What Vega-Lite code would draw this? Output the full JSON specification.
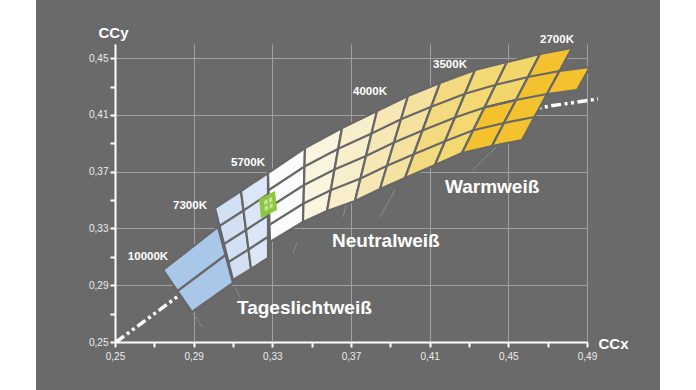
{
  "$schema": "https://vega.github.io/schema/vega-lite/v6.json",
  "width": 472,
  "height": 298,
  "autosize": {"type": "none"},
  "padding": {"left": 115, "top": 44, "right": 109, "bottom": 48},
  "background": "#6a6a6a",
  "config": {"view": {"stroke": null}, "font": "Liberation Sans"},
  "datasets": {
    "pad": [
      {"x": 0.18898, "x2": 0.20983, "y": 0.49453, "y2": 0.21265},
      {"x": 0.52712, "x2": 0.54746, "y": 0.49453, "y2": 0.21265}
    ],
    "leaders": [
      {"x": 0.28966, "y": 0.27044, "x2": 0.29424, "y2": 0.26057},
      {"x": 0.31102, "y": 0.28876, "x2": 0.31356, "y2": 0.28171},
      {"x": 0.34254, "y": 0.31976, "x2": 0.34051, "y2": 0.31272},
      {"x": 0.36593, "y": 0.33809, "x2": 0.36949, "y2": 0.35570},
      {"x": 0.38475, "y": 0.33809, "x2": 0.39237, "y2": 0.35711},
      {"x": 0.43203, "y": 0.37121, "x2": 0.44576, "y2": 0.39023}
    ],
    "locus": [
      {"k": 0, "x": 0.2505, "y": 0.2500},
      {"k": 1, "x": 0.26780, "y": 0.26762},
      {"k": 2, "x": 0.28559, "y": 0.28594},
      {"k": 3, "x": 0.30593, "y": 0.30919},
      {"k": 4, "x": 0.32780, "y": 0.33597},
      {"k": 5, "x": 0.34661, "y": 0.35359},
      {"k": 6, "x": 0.36949, "y": 0.36980},
      {"k": 7, "x": 0.39492, "y": 0.38530},
      {"k": 8, "x": 0.41780, "y": 0.40081},
      {"k": 9, "x": 0.44576, "y": 0.40997},
      {"k": 10, "x": 0.47119, "y": 0.41631},
      {"k": 11, "x": 0.49559, "y": 0.42124}
    ],
    "cells": [
      {"id": "p1", "g": "b10000", "k": 0, "x": 0.27441, "y": 0.30074},
      {"id": "p1", "g": "b10000", "k": 1, "x": 0.30237, "y": 0.33104},
      {"id": "p1", "g": "b10000", "k": 2, "x": 0.31000, "y": 0.29158},
      {"id": "p1", "g": "b10000", "k": 3, "x": 0.28915, "y": 0.27114},
      {"id": "p1", "g": "b10000", "k": 4, "x": 0.27441, "y": 0.30074},

      {"id": "p2", "g": "b7300a", "k": 0, "x": 0.30085, "y": 0.34443},
      {"id": "p2", "g": "b7300a", "k": 1, "x": 0.31407, "y": 0.35641},
      {"id": "p2", "g": "b7300a", "k": 2, "x": 0.31915, "y": 0.30144},
      {"id": "p2", "g": "b7300a", "k": 3, "x": 0.31000, "y": 0.29369},
      {"id": "p2", "g": "b7300a", "k": 4, "x": 0.30085, "y": 0.34443},

      {"id": "p3", "g": "b7300b", "k": 0, "x": 0.31407, "y": 0.35641},
      {"id": "p3", "g": "b7300b", "k": 1, "x": 0.32780, "y": 0.36909},
      {"id": "p3", "g": "b7300b", "k": 2, "x": 0.32780, "y": 0.30919},
      {"id": "p3", "g": "b7300b", "k": 3, "x": 0.31915, "y": 0.30144},
      {"id": "p3", "g": "b7300b", "k": 4, "x": 0.31407, "y": 0.35641},

      {"id": "p4", "g": "w5700", "k": 0, "x": 0.32780, "y": 0.36909},
      {"id": "p4", "g": "w5700", "k": 1, "x": 0.34661, "y": 0.38671},
      {"id": "p4", "g": "w5700", "k": 2, "x": 0.34559, "y": 0.33456},
      {"id": "p4", "g": "w5700", "k": 3, "x": 0.32881, "y": 0.32047},
      {"id": "p4", "g": "w5700", "k": 4, "x": 0.32780, "y": 0.36909},

      {"id": "p5", "g": "c1", "k": 0, "x": 0.34661, "y": 0.38671},
      {"id": "p5", "g": "c1", "k": 1, "x": 0.36542, "y": 0.40081},
      {"id": "p5", "g": "c1", "k": 2, "x": 0.35780, "y": 0.34232},
      {"id": "p5", "g": "c1", "k": 3, "x": 0.34559, "y": 0.33456},
      {"id": "p5", "g": "c1", "k": 4, "x": 0.34661, "y": 0.38671},

      {"id": "p6", "g": "c2", "k": 0, "x": 0.36542, "y": 0.40081},
      {"id": "p6", "g": "c2", "k": 1, "x": 0.38322, "y": 0.41279},
      {"id": "p6", "g": "c2", "k": 2, "x": 0.37203, "y": 0.34936},
      {"id": "p6", "g": "c2", "k": 3, "x": 0.35780, "y": 0.34232},
      {"id": "p6", "g": "c2", "k": 4, "x": 0.36542, "y": 0.40081},

      {"id": "p7", "g": "c3", "k": 0, "x": 0.38322, "y": 0.41279},
      {"id": "p7", "g": "c3", "k": 1, "x": 0.39898, "y": 0.42336},
      {"id": "p7", "g": "c3", "k": 2, "x": 0.38475, "y": 0.35782},
      {"id": "p7", "g": "c3", "k": 3, "x": 0.37203, "y": 0.34936},
      {"id": "p7", "g": "c3", "k": 4, "x": 0.38322, "y": 0.41279},

      {"id": "p8", "g": "c4", "k": 0, "x": 0.39898, "y": 0.42336},
      {"id": "p8", "g": "c4", "k": 1, "x": 0.41525, "y": 0.43252},
      {"id": "p8", "g": "c4", "k": 2, "x": 0.39746, "y": 0.36557},
      {"id": "p8", "g": "c4", "k": 3, "x": 0.38475, "y": 0.35782},
      {"id": "p8", "g": "c4", "k": 4, "x": 0.39898, "y": 0.42336},

      {"id": "p9", "g": "c5", "k": 0, "x": 0.41525, "y": 0.43252},
      {"id": "p9", "g": "c5", "k": 1, "x": 0.43305, "y": 0.44168},
      {"id": "p9", "g": "c5", "k": 2, "x": 0.41271, "y": 0.37473},
      {"id": "p9", "g": "c5", "k": 3, "x": 0.39746, "y": 0.36557},
      {"id": "p9", "g": "c5", "k": 4, "x": 0.41525, "y": 0.43252},

      {"id": "p10", "g": "c6", "k": 0, "x": 0.43305, "y": 0.44168},
      {"id": "p10", "g": "c6", "k": 1, "x": 0.44932, "y": 0.44732},
      {"id": "p10", "g": "c6", "k": 2, "x": 0.42644, "y": 0.38319},
      {"id": "p10", "g": "c6", "k": 3, "x": 0.41271, "y": 0.37473},
      {"id": "p10", "g": "c6", "k": 4, "x": 0.43305, "y": 0.44168},

      {"id": "p11", "g": "c7", "k": 0, "x": 0.44932, "y": 0.44732},
      {"id": "p11", "g": "c7", "k": 1, "x": 0.46610, "y": 0.45295},
      {"id": "p11", "g": "c7", "k": 2, "x": 0.45390, "y": 0.42054},
      {"id": "p11", "g": "c7", "k": 3, "x": 0.43788, "y": 0.41525},
      {"id": "p11", "g": "c7", "k": 4, "x": 0.44932, "y": 0.44732},

      {"id": "p12", "g": "gold", "k": 0, "x": 0.43788, "y": 0.41525},
      {"id": "p12", "g": "gold", "k": 1, "x": 0.45390, "y": 0.42054},
      {"id": "p12", "g": "gold", "k": 2, "x": 0.44169, "y": 0.38812},
      {"id": "p12", "g": "gold", "k": 3, "x": 0.42644, "y": 0.38319},
      {"id": "p12", "g": "gold", "k": 4, "x": 0.43788, "y": 0.41525},

      {"id": "p13", "g": "gold", "k": 0, "x": 0.46610, "y": 0.45295},
      {"id": "p13", "g": "gold", "k": 1, "x": 0.48237, "y": 0.45718},
      {"id": "p13", "g": "gold", "k": 2, "x": 0.45695, "y": 0.39235},
      {"id": "p13", "g": "gold", "k": 3, "x": 0.44169, "y": 0.38812},
      {"id": "p13", "g": "gold", "k": 4, "x": 0.46610, "y": 0.45295},

      {"id": "p14", "g": "gold", "k": 0, "x": 0.47602, "y": 0.44097},
      {"id": "p14", "g": "gold", "k": 1, "x": 0.49153, "y": 0.44379},
      {"id": "p14", "g": "gold", "k": 2, "x": 0.48492, "y": 0.42758},
      {"id": "p14", "g": "gold", "k": 3, "x": 0.46966, "y": 0.42477},
      {"id": "p14", "g": "gold", "k": 4, "x": 0.47602, "y": 0.44097}
    ],
    "rlines": [
      {"id": "r10000", "k": 0, "x": 0.28178, "y": 0.28594},
      {"id": "r10000", "k": 1, "x": 0.30619, "y": 0.31131},

      {"id": "r73a", "k": 0, "x": 0.30314, "y": 0.33175},
      {"id": "r73a", "k": 1, "x": 0.31534, "y": 0.34267},
      {"id": "r73a", "k": 2, "x": 0.32780, "y": 0.35412},
      {"id": "r73b", "k": 0, "x": 0.30542, "y": 0.31906},
      {"id": "r73b", "k": 1, "x": 0.31661, "y": 0.32893},
      {"id": "r73b", "k": 2, "x": 0.32780, "y": 0.33914},
      {"id": "r73c", "k": 0, "x": 0.30771, "y": 0.30638},
      {"id": "r73c", "k": 1, "x": 0.31788, "y": 0.31518},
      {"id": "r73c", "k": 2, "x": 0.32780, "y": 0.32417},

      {"id": "rm1", "k": 0, "x": 0.32805, "y": 0.35694},
      {"id": "rm1", "k": 1, "x": 0.34636, "y": 0.37367},
      {"id": "rm1", "k": 2, "x": 0.36352, "y": 0.38618},
      {"id": "rm1", "k": 3, "x": 0.38042, "y": 0.39693},
      {"id": "rm1", "k": 4, "x": 0.39542, "y": 0.40697},
      {"id": "rm1", "k": 5, "x": 0.41081, "y": 0.41578},
      {"id": "rm1", "k": 6, "x": 0.42797, "y": 0.42494},
      {"id": "rm1", "k": 7, "x": 0.44360, "y": 0.43128},
      {"id": "rm1", "k": 8, "x": 0.46000, "y": 0.43674},
      {"id": "rm1", "k": 9, "x": 0.47602, "y": 0.44097},

      {"id": "rm2", "k": 0, "x": 0.32831, "y": 0.34478},
      {"id": "rm2", "k": 1, "x": 0.34610, "y": 0.36064},
      {"id": "rm2", "k": 2, "x": 0.36161, "y": 0.37156},
      {"id": "rm2", "k": 3, "x": 0.37763, "y": 0.38107},
      {"id": "rm2", "k": 4, "x": 0.39186, "y": 0.39059},
      {"id": "rm2", "k": 5, "x": 0.40636, "y": 0.39904},
      {"id": "rm2", "k": 6, "x": 0.42288, "y": 0.40820},
      {"id": "rm2", "k": 7, "x": 0.43788, "y": 0.41525},
      {"id": "rm2", "k": 8, "x": 0.45390, "y": 0.42054},
      {"id": "rm2", "k": 9, "x": 0.46966, "y": 0.42477},

      {"id": "rm3", "k": 0, "x": 0.32856, "y": 0.33263},
      {"id": "rm3", "k": 1, "x": 0.34585, "y": 0.34760},
      {"id": "rm3", "k": 2, "x": 0.35970, "y": 0.35694},
      {"id": "rm3", "k": 3, "x": 0.37483, "y": 0.36522},
      {"id": "rm3", "k": 4, "x": 0.38831, "y": 0.37420},
      {"id": "rm3", "k": 5, "x": 0.40191, "y": 0.38231},
      {"id": "rm3", "k": 6, "x": 0.41780, "y": 0.39147},
      {"id": "rm3", "k": 7, "x": 0.43216, "y": 0.39922},
      {"id": "rm3", "k": 8, "x": 0.44780, "y": 0.40433},
      {"id": "rm3", "k": 9, "x": 0.46331, "y": 0.40856}
    ],
    "marker": [
      {"id": "m1", "g": "green", "k": 0, "x": 0.32322, "y": 0.35077},
      {"id": "m1", "g": "green", "k": 1, "x": 0.33136, "y": 0.35641},
      {"id": "m1", "g": "green", "k": 2, "x": 0.33237, "y": 0.34302},
      {"id": "m1", "g": "green", "k": 3, "x": 0.32424, "y": 0.33738},
      {"id": "m1", "g": "green", "k": 4, "x": 0.32322, "y": 0.35077},
      {"id": "m2", "g": "greenlight", "k": 0, "x": 0.32576, "y": 0.34936},
      {"id": "m2", "g": "greenlight", "k": 1, "x": 0.32983, "y": 0.35218},
      {"id": "m2", "g": "greenlight", "k": 2, "x": 0.33034, "y": 0.34513},
      {"id": "m2", "g": "greenlight", "k": 3, "x": 0.32627, "y": 0.34232},
      {"id": "m2", "g": "greenlight", "k": 4, "x": 0.32576, "y": 0.34936}
    ],
    "cross": [
      {"x": 0.32780, "y": 0.35077, "x2": 0.32831, "y2": 0.34372},
      {"x": 0.32602, "y": 0.34584, "x2": 0.33009, "y2": 0.34866}
    ],
    "cct": [
      {"t": "10000K", "x": 0.26678, "y": 0.30990},
      {"t": "7300K", "x": 0.28814, "y": 0.34584},
      {"t": "5700K", "x": 0.31763, "y": 0.37614},
      {"t": "4000K", "x": 0.37966, "y": 0.42617},
      {"t": "3500K", "x": 0.42034, "y": 0.44520},
      {"t": "2700K", "x": 0.47475, "y": 0.46282}
    ],
    "big": [
      {"t": "Tageslichtweiß", "x": 0.31203, "y": 0.26973},
      {"t": "Neutralweiß", "x": 0.36034, "y": 0.31695},
      {"t": "Warmweiß", "x": 0.41780, "y": 0.35535}
    ]
  },
  "encoding": {
    "x": {
      "field": "x",
      "type": "quantitative",
      "scale": {"domain": [0.25, 0.49], "nice": false, "zero": false},
      "axis": {
        "values": [0.25, 0.27, 0.29, 0.31, 0.33, 0.35, 0.37, 0.39, 0.41, 0.43, 0.45, 0.47, 0.49],
        "labelExpr": "round(datum.value*100) % 4 == 1 ? replace(format(datum.value, '.2f'), '.', ',') : ''",
        "domainColor": "#ffffff", "domainWidth": 2,
        "tickColor": "#ffffff", "tickWidth": 2, "tickSize": 5,
        "labelColor": "#ececec", "labelFont": "Liberation Sans", "labelFontSize": 10, "labelPadding": 4,
        "labelOverlap": false, "labelFlush": false,
        "grid": true, "gridColor": "#a0a0a0", "gridWidth": 1,
        "gridOpacity": {"condition": {"test": "round(datum.value*100) % 4 == 3", "value": 0}, "value": 1},
        "title": "CCx", "titleColor": "#ffffff", "titleFont": "Liberation Sans", "titleFontSize": 15, "titleFontWeight": "bold",
        "titleAngle": 0, "titleX": 498, "titleY": 1, "titleAlign": "center", "titleBaseline": "middle"
      }
    },
    "y": {
      "field": "y",
      "type": "quantitative",
      "scale": {"domain": [0.25, 0.46], "nice": false, "zero": false},
      "axis": {
        "values": [0.25, 0.27, 0.29, 0.31, 0.33, 0.35, 0.37, 0.39, 0.41, 0.43, 0.45],
        "labelExpr": "round(datum.value*100) % 4 == 1 ? replace(format(datum.value, '.2f'), '.', ',') : ''",
        "domainColor": "#ffffff", "domainWidth": 2,
        "tickColor": "#ffffff", "tickWidth": 2, "tickSize": 5,
        "labelColor": "#ececec", "labelFont": "Liberation Sans", "labelFontSize": 10, "labelPadding": 2,
        "labelOverlap": false, "labelFlush": false,
        "grid": true, "gridColor": "#a0a0a0", "gridWidth": 1,
        "gridOpacity": {"condition": {"test": "round(datum.value*100) % 4 == 3", "value": 0}, "value": 1},
        "title": "CCy", "titleColor": "#ffffff", "titleFont": "Liberation Sans", "titleFontSize": 15, "titleFontWeight": "bold",
        "titleAngle": 0, "titleX": -2, "titleY": -12, "titleAlign": "center", "titleBaseline": "middle"
      }
    }
  },
  "layer": [
    {
      "data": {"name": "pad"},
      "mark": {"type": "rect", "color": "#ffffff"},
      "encoding": {"x2": {"field": "x2"}, "y2": {"field": "y2"}}
    },
    {
      "data": {"name": "leaders"},
      "mark": {"type": "rule", "color": "#8e8e8e", "strokeWidth": 1},
      "encoding": {"x2": {"field": "x2"}, "y2": {"field": "y2"}}
    },
    {
      "data": {"name": "locus"},
      "mark": {"type": "line", "color": "#ffffff", "strokeWidth": 3.5, "strokeDash": [10, 3.5, 3, 3.5, 3, 3.5]},
      "encoding": {"order": {"field": "k", "type": "quantitative"}}
    },
    {
      "data": {"name": "cells"},
      "mark": {"type": "line", "stroke": "#676767", "strokeWidth": 2.2, "strokeJoin": "round"},
      "encoding": {
        "detail": {"field": "id", "type": "nominal"},
        "order": {"field": "k", "type": "quantitative"},
        "fill": {
          "field": "g", "type": "nominal", "legend": null,
          "scale": {
            "domain": ["b10000", "b7300a", "b7300b", "w5700", "c1", "c2", "c3", "c4", "c5", "c6", "c7", "gold", "green", "greenlight"],
            "range": ["#a9c7e9", "#d1e0f3", "#dbe7f6", "#fbfcfd", "#fbf5df", "#f8eecb", "#f6e7b5", "#f5e2a0", "#f4da7e", "#f4d972", "#f3d66a", "#f4c22e", "#8dc63f", "#c4e49b"]
          }
        }
      }
    },
    {
      "data": {"name": "rlines"},
      "mark": {"type": "line", "stroke": "#676767", "strokeWidth": 2.2},
      "encoding": {
        "detail": {"field": "id", "type": "nominal"},
        "order": {"field": "k", "type": "quantitative"}
      }
    },
    {
      "data": {"name": "marker"},
      "mark": {"type": "line", "strokeOpacity": 0, "strokeWidth": 0},
      "encoding": {
        "detail": {"field": "id", "type": "nominal"},
        "order": {"field": "k", "type": "quantitative"},
        "fill": {
          "field": "g", "type": "nominal", "legend": null,
          "scale": {
            "domain": ["b10000", "b7300a", "b7300b", "w5700", "c1", "c2", "c3", "c4", "c5", "c6", "c7", "gold", "green", "greenlight"],
            "range": ["#a9c7e9", "#d1e0f3", "#dbe7f6", "#fbfcfd", "#fbf5df", "#f8eecb", "#f6e7b5", "#f5e2a0", "#f4da7e", "#f4d972", "#f3d66a", "#f4c22e", "#8dc63f", "#c4e49b"]
          }
        }
      }
    },
    {
      "data": {"name": "cross"},
      "mark": {"type": "rule", "color": "#8dc63f", "strokeWidth": 1.5},
      "encoding": {"x2": {"field": "x2"}, "y2": {"field": "y2"}}
    },
    {
      "data": {"name": "cct"},
      "mark": {"type": "text", "color": "#ffffff", "font": "Liberation Sans", "fontSize": 11.5, "fontWeight": "bold", "align": "center", "baseline": "middle"},
      "encoding": {"text": {"field": "t", "type": "nominal"}}
    },
    {
      "data": {"name": "big"},
      "mark": {"type": "text", "color": "#ffffff", "font": "Liberation Sans", "fontSize": 19, "fontWeight": "bold", "align": "left", "baseline": "alphabetic"},
      "encoding": {"text": {"field": "t", "type": "nominal"}}
    }
  ]
}
